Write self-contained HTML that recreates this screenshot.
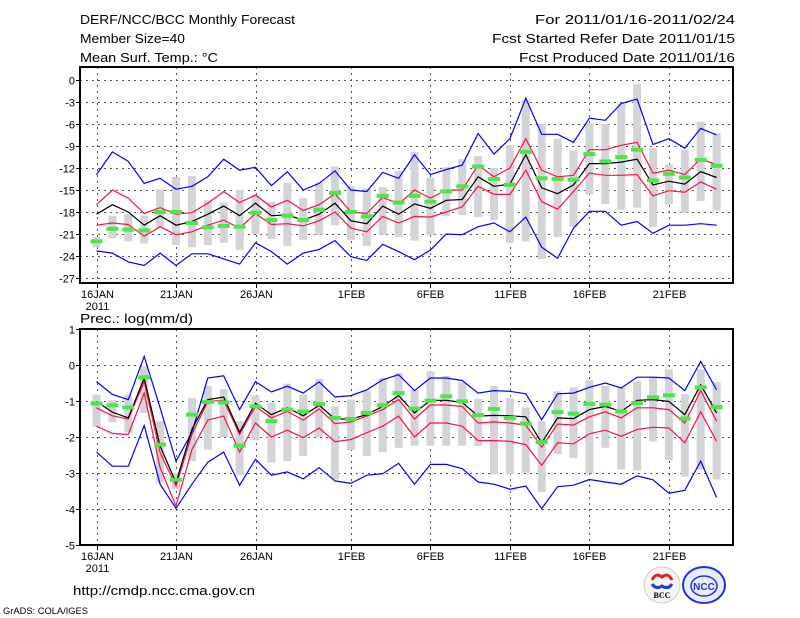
<!DOCTYPE html>
<html><head><meta charset="utf-8"><style>
html,body{margin:0;padding:0;background:#fff;width:800px;height:618px;overflow:hidden}
svg text{font-family:"Liberation Sans",sans-serif;fill:#000}
</style></head><body>
<svg id="chart" width="800" height="618" xmlns="http://www.w3.org/2000/svg">
<text x="80" y="24" font-size="13" textLength="215" lengthAdjust="spacingAndGlyphs">DERF/NCC/BCC Monthly Forecast</text>
<text x="80" y="43" font-size="13" textLength="105" lengthAdjust="spacingAndGlyphs">Member Size=40</text>
<text x="80" y="62" font-size="13" textLength="138" lengthAdjust="spacingAndGlyphs">Mean Surf. Temp.: °C</text>
<text x="735" y="24" font-size="13" text-anchor="end" textLength="200" lengthAdjust="spacingAndGlyphs">For 2011/01/16-2011/02/24</text>
<text x="735" y="43" font-size="13" text-anchor="end" textLength="243" lengthAdjust="spacingAndGlyphs">Fcst Started Refer Date 2011/01/15</text>
<text x="735" y="62" font-size="13" text-anchor="end" textLength="216" lengthAdjust="spacingAndGlyphs">Fcst Produced Date 2011/01/16</text>
<text x="80" y="323" font-size="13" textLength="113" lengthAdjust="spacingAndGlyphs">Prec.: log(mm/d)</text>
<text x="73" y="595" font-size="13" textLength="182" lengthAdjust="spacingAndGlyphs">http://cmdp.ncc.cma.gov.cn</text>
<text x="3" y="614" font-size="9" textLength="85" lengthAdjust="spacingAndGlyphs">GrADS: COLA/IGES</text>
<g>
<circle cx="662" cy="585" r="18" fill="#f4f4f4" stroke="#ccc"/>
<path d="M652 580 q4 -8 10 -3 q6 -5 10 3" fill="none" stroke="#e02020" stroke-width="3"/>
<path d="M652 584 q4 6 10 2 q6 4 10 -2" fill="none" stroke="#2040d0" stroke-width="3"/>
<text x="662" y="598" font-size="8" font-weight="bold" text-anchor="middle" style="font-family:'Liberation Serif',serif">BCC</text>
</g>
<g>
<ellipse cx="704" cy="585" rx="21" ry="18" fill="#e8ecff" stroke="#2030e0" stroke-width="2"/>
<ellipse cx="704" cy="586" rx="13" ry="10" fill="none" stroke="#2030e0" stroke-width="1.5"/>
<text x="704" y="590" font-size="10" font-weight="bold" text-anchor="middle" style="fill:#2030e0">NCC</text>
</g>
</svg>
<script>
// ---------- data ----------
var dayCount = 40;
var xTickDays = [0,5,10,16,21,26,31,36];
var xTickLabels = ["16JAN","21JAN","26JAN","1FEB","6FEB","11FEB","16FEB","21FEB"];
var tTicks = [0,-3,-6,-9,-12,-15,-18,-21,-24,-27];
var pTicks = [1,0,-1,-2,-3,-4,-5];

var tBlueHi = [-12.9,-9.8,-11.1,-14.1,-13.4,-14.9,-14.5,-13.2,-10.8,-12.3,-11.9,-14.4,-12.5,-15,-14.1,-12.4,-15,-15.2,-12.6,-13.4,-10.2,-12.9,-12.2,-11.6,-7.3,-10.1,-8,-2.5,-7.4,-7.4,-8.5,-5.2,-5.5,-3.2,-2.6,-8.8,-8,-9.3,-6.6,-7.5];
var tRedHi = [-17,-15,-16.1,-18.2,-17.4,-18.3,-18.1,-16.8,-15.2,-16.7,-15.7,-17.3,-16.4,-17.8,-17,-15.5,-18,-18.2,-16,-16.9,-15,-16.1,-15,-15,-11.6,-13.2,-12,-8,-12.3,-13.2,-13,-9.5,-9.5,-8.9,-8.5,-12.7,-12.3,-12.9,-10.7,-11.6];
var tMean = [-18.3,-17,-18,-19.8,-18.5,-19.8,-19.3,-18.3,-17.2,-18.5,-16.8,-18.5,-18.4,-19.1,-18.3,-16.8,-19.2,-19.6,-17.2,-18.3,-16.9,-17.5,-16.4,-16.3,-13.2,-14.5,-14.2,-10.2,-14.7,-15.5,-14.3,-11.4,-11.4,-11.2,-10.8,-14.3,-13.8,-14.2,-12.5,-13.3];
var tRedLo = [-19.8,-19.5,-19.7,-21.3,-20,-21.1,-20.7,-19.8,-19.1,-20.2,-18.2,-19.7,-19.6,-19.9,-19.2,-18,-20.2,-20.7,-18.6,-19.5,-18.6,-18.7,-18,-17.3,-14.5,-15.6,-15.6,-12.3,-16.6,-17.6,-15.2,-12.7,-13,-13,-12.9,-15.8,-15.1,-15.3,-13.9,-14.9];
var tBlueLo = [-23.3,-23.6,-24.8,-25.3,-23.6,-25.3,-23.7,-23.7,-24.4,-25.1,-22.2,-23.4,-25.1,-23.6,-23.1,-21.9,-24.1,-24.6,-22.4,-23.4,-24.5,-23.2,-21,-21.1,-20,-19.5,-20.7,-18.7,-22.8,-24.3,-20.2,-17.9,-17.9,-19.8,-19.3,-20.9,-19.8,-19.8,-19.6,-19.8];
var tObs = [-22,-20.3,-20.4,-20.5,-18,-18,-19.5,-20.1,-19.9,-20,-18.1,-19.1,-18.5,-19.1,-17.7,-15.4,-18,-18.6,-15.8,-16.7,-15.8,-16.6,-15.2,-14.5,-11.8,-13.5,-14.3,-9.8,-13.4,-13.5,-13.6,-10.1,-11.1,-10.5,-9.5,-13.7,-12.8,-13.3,-10.9,-11.7];
var tRangeHi = [-21.4,-18.5,-18.3,-18.5,-14.9,-13.2,-13.1,-16.4,-16.7,-15,-15.7,-16.6,-14,-16.1,-14,-11.8,-14.5,-14.8,-14.6,-12.4,-9.8,-13.3,-11.9,-10.8,-10.4,-12,-8.9,-2.7,-6,-8,-9.6,-5.9,-6,-3.2,-0.5,-9.3,-11.5,-9.5,-5.7,-7.2];
var tRangeLo = [-22.8,-21.6,-22,-22.3,-20.2,-22.5,-22.8,-22.5,-22.2,-23.2,-21,-21.7,-22.6,-21.8,-21.1,-19.8,-21.8,-22.6,-21.1,-21.4,-21.9,-21.2,-18.6,-18.4,-18.7,-19.1,-22.2,-22,-24.4,-21.4,-20,-15.6,-16.9,-17.7,-17.4,-20.1,-17,-18.1,-16.5,-17.8];

var pBlueHi = [-0.46,-0.82,-0.96,0.24,-1.19,-2.67,-1.88,-0.36,-0.3,-1.24,-0.46,-0.75,-0.59,-0.78,-0.47,-0.89,-0.85,-0.69,-0.41,-0.27,-0.71,-0.36,-0.36,-0.43,-0.78,-0.71,-0.73,-0.8,-1.52,-0.8,-0.78,-0.62,-0.5,-0.64,-0.34,-0.34,-0.36,-0.71,0.1,-0.69];
var pRedHi = [-1.19,-1.41,-1.5,-0.46,-2.44,-3.36,-1.93,-1.01,-0.98,-1.93,-1.15,-1.47,-1.29,-1.53,-1.22,-1.63,-1.58,-1.42,-1.24,-0.96,-1.5,-1.11,-1.11,-1.15,-1.61,-1.58,-1.61,-1.67,-2.28,-1.64,-1.67,-1.44,-1.3,-1.47,-1.19,-1.19,-1.24,-1.61,-0.71,-1.56];
var pMean = [-1.01,-1.31,-1.47,-0.36,-2.25,-3.27,-1.79,-0.96,-0.89,-1.87,-1.06,-1.38,-1.19,-1.41,-1.12,-1.5,-1.5,-1.38,-1.15,-0.85,-1.33,-0.98,-0.98,-1.04,-1.42,-1.4,-1.41,-1.44,-2.16,-1.47,-1.49,-1.24,-1.15,-1.29,-0.98,-0.96,-1.01,-1.38,-0.55,-1.33];
var pRedLo = [-1.7,-1.9,-1.93,-0.78,-2.85,-3.91,-2.35,-1.53,-1.42,-2.42,-1.61,-2,-1.81,-2.02,-1.75,-2.13,-2.07,-1.88,-1.7,-1.42,-2,-1.61,-1.61,-1.7,-2.1,-2.1,-2.12,-2.21,-2.79,-2.16,-2.19,-1.91,-1.81,-1.98,-1.79,-1.73,-1.75,-2.16,-1.3,-2.12];
var pBlueLo = [-2.42,-2.81,-2.81,-1.68,-3.31,-3.98,-3.31,-2.7,-2.42,-3.34,-2.62,-3.06,-2.97,-3.16,-2.85,-3.22,-3.29,-3.06,-3.02,-2.73,-3.31,-2.76,-2.76,-2.88,-3.25,-3.31,-3.45,-3.36,-3.99,-3.38,-3.34,-3.18,-3.25,-3.31,-3.08,-3.19,-3.56,-3.48,-2.67,-3.68];
var pObs = [-1.07,-1.12,-1.18,-0.34,-2.21,-3.19,-1.38,-1.03,-1.04,-2.24,-1.15,-1.56,-1.24,-1.29,-1.08,-1.47,-1.5,-1.33,-1.12,-0.78,-1.21,-0.99,-0.87,-1.01,-1.39,-1.22,-1.47,-1.63,-2.14,-1.31,-1.35,-1.08,-1.1,-1.29,-1.06,-0.9,-0.84,-1.49,-0.62,-1.17];
var pRangeHi = [-0.82,-0.98,-0.82,-0.04,-1.56,-2.99,-0.92,-0.58,-0.67,-1.56,-0.85,-1.04,-0.52,-0.82,-0.38,-1.15,-0.96,-0.73,-0.36,-0.23,-0.69,-0.18,-0.3,-0.48,-0.94,-0.58,-0.92,-1.18,-1.56,-0.73,-0.62,-0.41,-0.58,-0.62,-0.46,-0.32,-0.12,-0.81,-0.13,-0.48];
var pRangeLo = [-1.72,-1.59,-1.87,-1.33,-3.27,-3.45,-2.67,-2.35,-2,-3.06,-2.09,-2.71,-2.67,-2.53,-2,-3.18,-2.36,-2.53,-2.42,-2.3,-2.24,-2.24,-2.24,-2.24,-2.25,-3.04,-3.04,-2.99,-3.53,-2.48,-2.58,-3.01,-2.3,-2.9,-2.93,-2.12,-2.64,-3.1,-2.9,-3.18];

// ---------- drawing ----------
var NS = "http://www.w3.org/2000/svg";
var svg = document.getElementById('chart');
function mk(tag, attrs, parent){ var e=document.createElementNS(NS,tag); for(var k in attrs) e.setAttribute(k,attrs[k]); (parent||svg).appendChild(e); return e; }
function xScale(d){ return 96.5 + d*15.9; }
var X0 = 80, X1 = 733;

function panel(p){
  var g = mk('g', {});
  
  
  function y(v){ return p.y0 + (p.v0 - v)*(p.y1 - p.y0)/(p.v0 - p.v1); }
  p.ticks.forEach(function(t,i){
    var yy = Math.round(y(t))+0.5;
    var gl = mk('line',{x1:X0,x2:X1,y1:yy,y2:yy,stroke:'#555','stroke-dasharray':'2,4','stroke-width':1},g);
    
    
    var tl = mk('text',{x:75,y:yy+4,'font-size':11,'text-anchor':'end'},g);
    
    
    tl.textContent = String(t);
    mk('line',{x1:X0-4,x2:X0,y1:yy,y2:yy,stroke:'#000'},g);
  });
  xTickDays.forEach(function(d,i){
    var xx = Math.round(xScale(d))+0.5;
    var vl = mk('line',{x1:xx,x2:xx,y1:p.fy0,y2:p.fy1,stroke:'#555','stroke-dasharray':'2,4'},g);
    
    
    mk('line',{x1:xx,x2:xx,y1:p.fy1,y2:p.fy1+5,stroke:'#000'},g);
    var lt = mk('text',{x:xx,y:p.fy1+15,'font-size':11,'text-anchor':'middle'},g);
    
    
    lt.textContent = xTickLabels[i];
    if(i===0){
      var yr = mk('text',{x:xx,y:p.fy1+27,'font-size':11,'text-anchor':'middle'},g);
      
      
      yr.textContent = '2011';
    }
  });
  for(var d=0; d<dayCount; d++){
    var a=y(p.rHi[d]), b=y(p.rLo[d]);
    var r = mk('rect',{x:xScale(d)-4,y:a,width:8,height:Math.max(1,b-a),fill:'#d3d3d8'},g);
    
    
  }
  function line(arr, color, name){
    var pts = arr.map(function(v,d){ return xScale(d).toFixed(1)+','+y(v).toFixed(1); }).join(' ');
    var pl = mk('polyline',{points:pts,fill:'none',stroke:color,'stroke-width':1.2},g);
    
    
  }
  line(p.bHi,'#0000ff','max-line');
  line(p.bLo,'#0000ff','min-line');
  line(p.rdHi,'#ff1040','upper-spread-line');
  line(p.rdLo,'#ff1040','lower-spread-line');
  line(p.mean,'#000000','ensemble-mean-line');
  for(var d=0; d<dayCount; d++){
    var m = mk('rect',{x:xScale(d)-6,y:y(p.obs[d])-2,width:12,height:4,fill:'#4ce64c'},g);
    
    
  }
  var fr = mk('rect',{x:X0,y:p.fy0,width:X1-X0,height:p.fy1-p.fy0,fill:'none',stroke:'#000','stroke-width':2},g);
  
  
}
panel({name:'temperature-panel', y0:80, y1:278, v0:0, v1:-27, fy0:67, fy1:283, ticks:tTicks,
  rHi:tRangeHi, rLo:tRangeLo, bHi:tBlueHi, bLo:tBlueLo, rdHi:tRedHi, rdLo:tRedLo, mean:tMean, obs:tObs});
panel({name:'precipitation-panel', y0:329, y1:545, v0:1, v1:-5, fy0:329, fy1:545, ticks:pTicks,
  rHi:pRangeHi, rLo:pRangeLo, bHi:pBlueHi, bLo:pBlueLo, rdHi:pRedHi, rdLo:pRedLo, mean:pMean, obs:pObs});
</script>
</body></html>
